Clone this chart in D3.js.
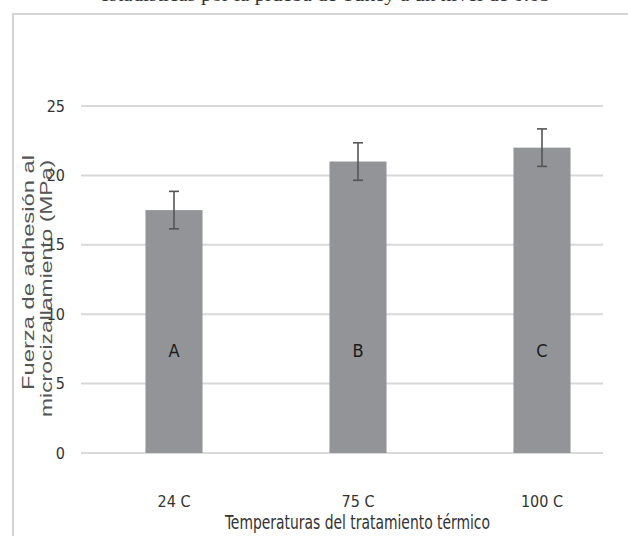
<!DOCTYPE html>
<html>
<head>
<meta charset="utf-8">
<script src="https://cdn.jsdelivr.net/npm/d3@7"></script>
<style>
  body { margin: 0; background: #fff; }
  svg { display: block; }
</style>
</head>
<body>
<div id="chart"></div>
<script>
// Data
const temperatures = ["24 C", "75 C", "100 C"];
const meanStrength = [17.5, 21.0, 22.0];
const errorBar = [1.35, 1.35, 1.35];
const groupLetters = ["A", "B", "C"];
const yTicks = [0, 5, 10, 15, 20, 25];

const width = 628, height = 536;
const sans = "DejaVu Sans Condensed, sans-serif";

const svg = d3.select("#chart").append("svg")
    .attr("width", width)
    .attr("height", height);

// Caption from the page above, mostly cut off by the crop
svg.append("text")
    .attr("x", 100)
    .attr("y", 0.7)
    .attr("textLength", 450)
    .attr("lengthAdjust", "spacingAndGlyphs")
    .attr("font-family", "Liberation Serif, serif")
    .attr("font-size", 18)
    .attr("fill", "#333")
    .text("estadísticas por la prueba de Tukey a un nivel de 0.05");

// Chart frame
svg.append("path")
    .attr("d", "M13,540 V14 H640")
    .attr("fill", "none")
    .attr("stroke", "#d4d4d4")
    .attr("stroke-width", 2);

const x = d3.scaleBand()
    .domain(temperatures)
    .range([82, 634])
    .paddingInner(0.69)
    .paddingOuter(0.345);

const y = d3.scaleLinear()
    .domain([0, 25])
    .range([453, 106]);

// Gridlines
svg.append("g")
    .selectAll("line")
    .data(yTicks)
    .join("line")
    .attr("x1", 81)
    .attr("x2", 603)
    .attr("y1", d => y(d))
    .attr("y2", d => y(d))
    .attr("stroke", "#d9d9d9")
    .attr("stroke-width", 2);

// Y tick labels
svg.append("g")
    .selectAll("text")
    .data(yTicks)
    .join("text")
    .attr("x", 65)
    .attr("y", d => y(d))
    .attr("dy", "0.35em")
    .attr("text-anchor", "end")
    .attr("font-family", sans)
    .attr("font-size", 16)
    .attr("fill", "#333")
    .text(d => d);

// Bars
svg.append("g")
    .selectAll("rect")
    .data(meanStrength)
    .join("rect")
    .attr("x", (d, i) => x(temperatures[i]))
    .attr("width", x.bandwidth())
    .attr("y", d => y(d))
    .attr("height", d => y(0) - y(d))
    .attr("fill", "#939498");

// Error bars
const eb = svg.append("g")
    .attr("stroke", "#555")
    .attr("stroke-width", 1.6);
meanStrength.forEach((m, i) => {
    const cx = x(temperatures[i]) + x.bandwidth() / 2;
    const top = y(m + errorBar[i]), bot = y(m - errorBar[i]);
    eb.append("line").attr("x1", cx).attr("x2", cx).attr("y1", top).attr("y2", bot);
    eb.append("line").attr("x1", cx - 5).attr("x2", cx + 5).attr("y1", top).attr("y2", top);
    eb.append("line").attr("x1", cx - 5).attr("x2", cx + 5).attr("y1", bot).attr("y2", bot);
});

// Group letters inside the bars
svg.append("g")
    .selectAll("text")
    .data(groupLetters)
    .join("text")
    .attr("x", (d, i) => x(temperatures[i]) + x.bandwidth() / 2)
    .attr("y", 357)
    .attr("text-anchor", "middle")
    .attr("font-family", sans)
    .attr("font-size", 18)
    .attr("fill", "#1a1a1a")
    .text(d => d);

// X tick labels
svg.append("g")
    .selectAll("text")
    .data(temperatures)
    .join("text")
    .attr("x", d => x(d) + x.bandwidth() / 2)
    .attr("y", 507)
    .attr("text-anchor", "middle")
    .attr("font-family", sans)
    .attr("font-size", 16)
    .attr("fill", "#333")
    .text(d => d);

// X axis title
svg.append("text")
    .attr("x", 225)
    .attr("y", 529)
    .attr("textLength", 265)
    .attr("lengthAdjust", "spacingAndGlyphs")
    .attr("font-family", sans)
    .attr("font-size", 20)
    .attr("fill", "#333")
    .text("Temperaturas del tratamiento térmico");

// Y axis title, two lines, stretched along their length like the source
const yTitle = [
    { text: "Fuerza de adhesión al", x: 34, y0: 390, len: 235 },
    { text: "microcizallamiento (MPa)", x: 52, y0: 417, len: 257 }
];
svg.append("g")
    .selectAll("text")
    .data(yTitle)
    .join("text")
    .attr("transform", d => `translate(${d.x},${d.y0}) rotate(-90)`)
    .attr("textLength", d => d.len)
    .attr("lengthAdjust", "spacingAndGlyphs")
    .attr("font-family", "Liberation Sans, Arial, sans-serif")
    .attr("font-size", 16)
    .attr("fill", "#555")
    .text(d => d.text);
</script>
</body>
</html>
